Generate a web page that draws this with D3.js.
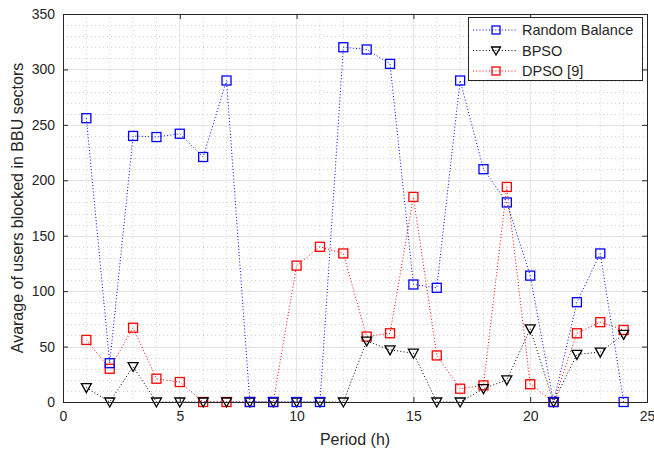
<!DOCTYPE html>
<html><head><meta charset="utf-8">
<script src="https://cdn.jsdelivr.net/npm/d3@7"></script>
<style>body{margin:0;background:#fff}svg{display:block}text{font-family:"Liberation Sans",Arial,sans-serif;fill:#262626}</style>
</head><body><svg id="c" width="654" height="453"></svg>
<script>
const periods = d3.range(1, 25);
const randomBalance = [256,35,240,239,242,221,290,0,0,0,0,320,318,305,106,103,290,210,180,114,0,90,134,0];
const bpso = [13,0,32,0,0,0,0,0,0,0,0,0,55,47,44,0,0,12,20,66,0,43,45,61];
const dpso = [56,30,67,21,18,0,0,0,0,123,140,134,59,62,185,42,12,15,194,16,0,62,72,65];
const xTicks = [0,5,10,15,20,25];
const yTicks = [0,50,100,150,200,250,300,350];
const seriesNames = ["Random Balance","BPSO","DPSO [9]"];

const svg = d3.select("#c");
const L=63,R=647,T=14,B=402;
const x = d3.scaleLinear().domain([0,25]).range([L,R]);
const y = d3.scaleLinear().domain([0,350]).range([B,T]);
const g = svg.append("g");

// minor grid
g.selectAll(".mx").data(d3.range(1,25).filter(d=>d%5)).enter().append("line")
 .attr("x1",d=>x(d)).attr("x2",d=>x(d)).attr("y1",T).attr("y2",B)
 .attr("stroke","#d0d0d0").attr("stroke-dasharray","1,3").attr("stroke-width",1);
g.selectAll(".my").data(d3.range(10,350,10).filter(d=>d%50)).enter().append("line")
 .attr("y1",d=>Math.round(y(d))+0.5).attr("y2",d=>Math.round(y(d))+0.5).attr("x1",L).attr("x2",R)
 .attr("stroke","#d0d0d0").attr("stroke-dasharray","1,3").attr("stroke-width",1);
// major grid
g.selectAll(".gx").data(xTicks.slice(1,-1)).enter().append("line")
 .attr("x1",d=>x(d)).attr("x2",d=>x(d)).attr("y1",T).attr("y2",B).attr("stroke","#e3e3e3");
g.selectAll(".gy").data(yTicks.slice(1,-1)).enter().append("line")
 .attr("y1",d=>Math.round(y(d))+0.5).attr("y2",d=>Math.round(y(d))+0.5).attr("x1",L).attr("x2",R).attr("stroke","#e3e3e3");

// axes
const xa = svg.append("g").attr("transform",`translate(0,${B})`)
 .call(d3.axisBottom(x).tickValues(xTicks).tickSize(-5).tickPadding(9).tickFormat(d3.format("d")));
const xt = svg.append("g").attr("transform",`translate(0,${T})`)
 .call(d3.axisTop(x).tickValues(xTicks).tickSize(-5).tickFormat(""));
const ya = svg.append("g").attr("transform",`translate(${L},0)`)
 .call(d3.axisLeft(y).tickValues(yTicks).tickSize(-5).tickPadding(8).tickFormat(d3.format("d")));
const yr = svg.append("g").attr("transform",`translate(${R},0)`)
 .call(d3.axisRight(y).tickValues(yTicks).tickSize(-5).tickFormat(""));
[xa,xt,ya,yr].forEach(a=>{a.select(".domain").attr("stroke","#262626");a.selectAll("line").attr("stroke","#262626");
 a.selectAll("text").style("font-size","14px").attr("fill","#262626").style("font-family","Liberation Sans, Arial, sans-serif");});

// series
const line = d3.line().x((d,i)=>x(periods[i])).y(d=>y(d));
function drawSeries(data,color,marker){
  g.append("path").datum(data).attr("d",line).attr("fill","none").attr("stroke",color)
   .attr("stroke-width",1).attr("stroke-dasharray","1,2.2");
  data.forEach((v,i)=>drawMarker(x(periods[i]),y(v),color,marker));
}
function drawMarker(cx,cy,color,marker){
  if(marker==="sq"){
    g.append("rect").attr("x",cx-4.5).attr("y",cy-4.5).attr("width",9).attr("height",9)
     .attr("fill","none").attr("stroke",color).attr("stroke-width",1.3);
  } else {
    g.append("path").attr("d",`M${cx-5},${cy-4}L${cx+5},${cy-4}L${cx},${cy+5}Z`)
     .attr("fill","none").attr("stroke",color).attr("stroke-width",1.3);
  }
}
drawSeries(dpso,"#ff0000","sq");
drawSeries(bpso,"#000000","tri");
drawSeries(randomBalance,"#0000ff","sq");

// labels
svg.append("text").attr("x",(L+R)/2).attr("y",445).attr("text-anchor","middle").style("font-size","16px").text("Period (h)");
svg.append("text").attr("transform",`translate(23,${(T+B)/2}) rotate(-90)`).attr("text-anchor","middle")
 .style("font-size","16px").text("Avarage of users blocked in BBU sectors");

// legend
const lg = svg.append("g");
lg.append("rect").attr("x",468.5).attr("y",17.5).attr("width",174).attr("height",63).attr("fill","#fff").attr("stroke","#262626");
const legColors=["#0000ff","#000000","#ff0000"], legMarkers=["sq","tri","sq"];
seriesNames.forEach((n,i)=>{
  const cy = 30 + i*20.5;
  lg.append("line").attr("x1",473).attr("x2",516).attr("y1",cy).attr("y2",cy).attr("stroke",legColors[i]).attr("stroke-dasharray","1,2.2");
  const cx=496;
  if(legMarkers[i]==="sq") lg.append("rect").attr("x",cx-4).attr("y",cy-4).attr("width",8).attr("height",8).attr("fill","none").attr("stroke",legColors[i]).attr("stroke-width",1.3);
  else lg.append("path").attr("d",`M${cx-4.5},${cy-3.5}L${cx+4.5},${cy-3.5}L${cx},${cy+4.5}Z`).attr("fill","none").attr("stroke",legColors[i]).attr("stroke-width",1.3);
  lg.append("text").attr("x",522).attr("y",cy+5).style("font-size","14.5px").text(n);
});
</script></body></html>
